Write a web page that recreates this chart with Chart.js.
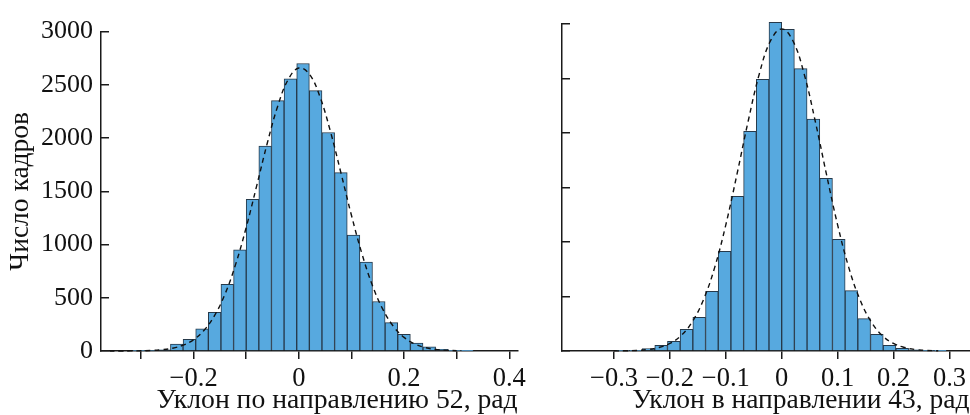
<!DOCTYPE html>
<html>
<head>
<meta charset="utf-8">
<script src="https://cdn.jsdelivr.net/npm/chart.js@4.4.1/dist/chart.umd.min.js"></script>
<style>
  body { margin: 0; background: #fff; width: 970px; height: 415px; overflow: hidden; position: relative; }
  canvas { position: absolute; top: 0; }
  #c1 { left: 0; }
  #c2 { left: 540px; }
</style>
</head>
<body>
<canvas id="c1" width="530" height="415"></canvas>
<canvas id="c2" width="430" height="415"></canvas>
<script>
// left panel: slope along direction 52
const left_bins = [-0.304, -0.280, -0.256, -0.232, -0.208, -0.184, -0.160, -0.136, -0.112, -0.088,
  -0.064, -0.040, -0.016, 0.008, 0.032, 0.056, 0.080, 0.104, 0.128, 0.152, 0.176, 0.200, 0.224,
  0.248, 0.272, 0.296, 0.320]
const left_counts = [2, 5, 12, 64, 110, 208, 364, 627, 951, 1425,
  1924, 2352, 2557, 2700, 2446, 2052, 1676, 1089, 835, 465, 266, 156, 74,
  39, 15, 3, 1]
const left_fit_x = [-0.36, -0.34, -0.32, -0.30, -0.28, -0.26, -0.24, -0.22, -0.20, -0.18, -0.16, -0.14,
  -0.12, -0.10, -0.08, -0.06, -0.04, -0.02, 0.00, 0.02, 0.04, 0.06, 0.08, 0.10, 0.12, 0.14, 0.16,
  0.18, 0.20, 0.22, 0.24, 0.26, 0.28, 0.30]
const left_fit_y = [0, 0, 1, 2, 5, 12, 26, 55, 106, 195, 334, 538,
  816, 1161, 1553, 1951, 2302, 2552, 2658, 2601, 2390, 2064, 1674, 1275, 913, 614, 388,
  230, 128, 67, 33, 15, 7, 3]
const left_ticks = [-0.3, -0.2, -0.1, 0, 0.1, 0.2, 0.3, 0.4]
const left_labels = ["", "\u22120.2", "", "0", "", "0.2", "", "0.4"]
const left_title = "Уклон по направлению 52, рад"

// right panel: slope in direction 43
const right_bins = [-0.2838, -0.2611, -0.2384, -0.2157, -0.1930, -0.1703, -0.1476, -0.1249, -0.1022,
  -0.0795, -0.0568, -0.0341, -0.0114, 0.0113, 0.0340, 0.0567, 0.0794, 0.1021, 0.1248, 0.1475,
  0.1702, 0.1929, 0.2156, 0.2383, 0.2610, 0.2837]
const right_counts = [4, 3, 22, 52, 89, 199, 309, 547, 914,
  1419, 2015, 2492, 3015, 2951, 2590, 2128, 1584, 1024, 554, 297,
  153, 52, 25, 10, 3, 1]
const right_fit_x = [-0.30, -0.28, -0.26, -0.24, -0.22, -0.20, -0.18, -0.16, -0.14, -0.12, -0.10,
  -0.08, -0.06, -0.04, -0.02, 0.00, 0.02, 0.04, 0.06, 0.08, 0.10, 0.12, 0.14, 0.16, 0.18, 0.20,
  0.22, 0.24, 0.26, 0.28]
const right_fit_y = [1, 2, 5, 13, 32, 69, 141, 268, 470, 765, 1157,
  1622, 2108, 2544, 2846, 2955, 2846, 2544, 2108, 1622, 1157, 765, 470, 268, 141, 69,
  32, 13, 5, 2]
const right_ticks = [-0.3, -0.2, -0.1, 0, 0.1, 0.2, 0.3]
const right_labels = ["\u22120.3", "\u22120.2", "\u22120.1", "0", "0.1", "0.2", "0.3"]
const right_title = "Уклон в направлении 43, рад"

const y_ticks = [0, 500, 1000, 1500, 2000, 2500, 3000]
const y_title = "Число кадров"

const FONT = "'Liberation Serif', 'Times New Roman', serif"
const INK = "#1a1a1a"

function get_config(bins, counts, fit_x, fit_y, opts) {
  return {
    type: "bar",
    data: {
      datasets: [
        {
          type: "line",
          data: fit_x.map((x, i) => ({ x: x, y: fit_y[i] })),
          borderColor: "#111",
          borderWidth: 1.4,
          borderDash: [5, 4],
          pointRadius: 0,
          tension: 0.4,
          fill: false,
          order: 1,
          clip: false,
        },
        {
          data: bins.map((x, i) => ({ x: x, y: counts[i] })),
          backgroundColor: "#57a9df",
          borderColor: "#26394a",
          borderWidth: 1,
          barPercentage: 1,
          categoryPercentage: 1,
          order: 2,
          clip: false,
        },
      ],
    },
    options: {
      responsive: false,
      animation: false,
      events: [],
      layout: { padding: { top: 24, right: opts.padRight, left: 0, bottom: 0 } },
      plugins: { legend: { display: false }, tooltip: { enabled: false } },
      scales: {
        x: {
          type: "linear",
          min: opts.xmin,
          max: opts.xmax,
          bounds: "data",
          offset: false,
          border: { display: true, color: INK, width: 1.5 },
          grid: { offset: false, drawOnChartArea: false, tickLength: 8, color: INK, lineWidth: 1.5 },
          afterBuildTicks: (s) => { s.ticks = opts.ticks.map((v) => ({ value: v })) },
          ticks: {
            autoSkip: false,
            maxRotation: 0,
            padding: 4,
            color: "#111",
            font: { family: FONT, size: 26.5 },
            callback: (v, i) => opts.labels[i],
          },
          title: {
            display: true,
            text: opts.title,
            align: "end",
            color: "#111",
            font: { family: FONT, size: opts.titleSize, lineHeight: 1 },
            padding: { top: 0, bottom: 0 },
          },
          afterFit: (s) => { s.height = 64 },
        },
        y: {
          min: 0,
          max: 3000,
          border: { display: true, color: INK, width: 1.5 },
          grid: { drawOnChartArea: false, tickLength: -8, color: INK, lineWidth: 1.5 },
          afterBuildTicks: (s) => { s.ticks = y_ticks.map((v) => ({ value: v })) },
          ticks: {
            display: opts.showY,
            padding: 16,
            color: "#111",
            font: { family: FONT, size: 26 },
            callback: (v) => String(v),
          },
          title: {
            display: opts.showY,
            text: y_title,
            color: "#111",
            font: { family: FONT, size: 27.5, lineHeight: 1 },
            padding: { top: 7, bottom: 0 },
          },
          afterFit: (s) => { s.width = opts.yWidth },
        },
      },
    },
  }
}

var left_chart = new Chart(document.getElementById("c1").getContext("2d"),
  get_config(left_bins, left_counts, left_fit_x, left_fit_y, {
    xmin: -0.376, xmax: 0.416, padRight: 8, yWidth: 101, showY: true, titleSize: 27.7,
    ticks: left_ticks, labels: left_labels, title: left_title,
  }))

var right_chart = new Chart(document.getElementById("c2").getContext("2d"),
  get_config(right_bins, right_counts, right_fit_x, right_fit_y, {
    xmin: -0.393, xmax: 0.336, padRight: 0, yWidth: 22, showY: false, titleSize: 27.5,
    ticks: right_ticks, labels: right_labels, title: right_title,
  }))
</script>
</body>
</html>
